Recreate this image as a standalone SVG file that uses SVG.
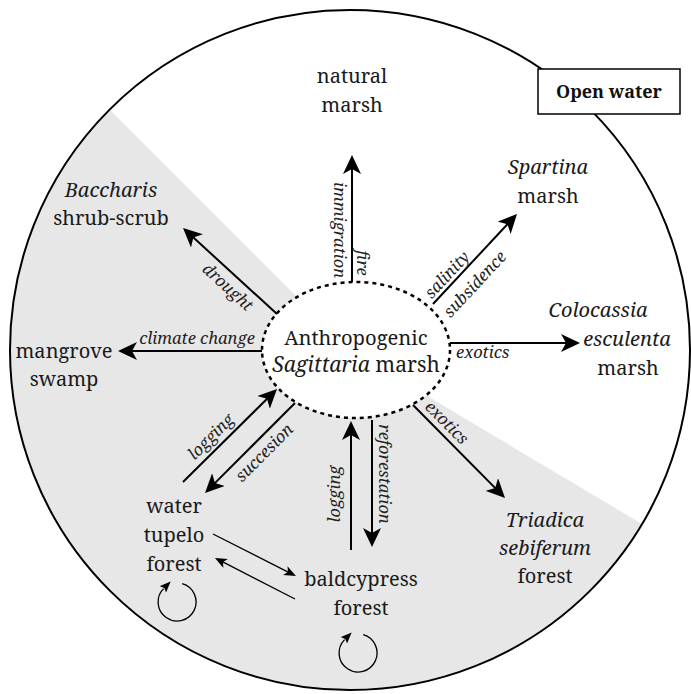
<svg xmlns="http://www.w3.org/2000/svg" width="691" height="694" viewBox="0 0 691 694">
<defs>
<marker id="ah" viewBox="0 0 19 18" markerWidth="19" markerHeight="18" refX="9" refY="9" orient="auto" markerUnits="userSpaceOnUse"><path d="M0,0 L19,9 L0,18 L5,9 Z" fill="#000"/></marker>
<marker id="ahs" viewBox="0 0 12 10" markerWidth="12" markerHeight="10" refX="6" refY="5" orient="auto" markerUnits="userSpaceOnUse"><path d="M0,0 L12,5 L0,10 L3,5 Z" fill="#000"/></marker>
<marker id="ahl" viewBox="0 0 11 9" markerWidth="11" markerHeight="9" refX="1" refY="4.5" orient="auto" markerUnits="userSpaceOnUse"><path d="M0,0 L11,4.5 L0,9 L2,4.5 Z" fill="#000"/></marker>
</defs>
<style>
text{font-family:'Noto Serif','DejaVu Serif',serif}
.n{font-size:20px;fill:#1a1a1a;text-anchor:middle}
.i{font-style:italic}
.l{font-size:16.5px;font-style:italic;fill:#222;text-anchor:middle}
.a{stroke:#000;stroke-width:2;fill:none;marker-end:url(#ah)}
.s{stroke:#000;stroke-width:1.3;fill:none;marker-end:url(#ahs)}
.lp{stroke:#000;stroke-width:1.3;fill:none;marker-end:url(#ahl)}
</style>
<rect width="691" height="694" fill="#fff"/>
<g id="background">
<circle cx="350" cy="350" r="340" fill="#fff"/>
<path d="M350,350 L642,524 A340,340 0 1,1 109.6,109.6 Z" fill="#e7e7e7"/>
<circle cx="350" cy="350" r="340" fill="none" stroke="#000" stroke-width="2"/>
</g>
<g id="node-center">
<ellipse cx="356" cy="350" rx="94" ry="68" fill="#fff" stroke="#000" stroke-width="2.5" stroke-dasharray="4,4"/>
<text class="n" x="356" y="345" style="font-size:20.2px">Anthropogenic</text>
<text class="n" x="356" y="372" style="font-size:21px"><tspan class="i">Sagittaria</tspan> marsh</text>
</g>
<g id="connectors">
<line class="a" x1="352" y1="282" x2="352" y2="165"/>
<line class="a" x1="433" y1="304" x2="510.2" y2="221.3"/>
<line class="a" x1="450" y1="343" x2="570" y2="343"/>
<line class="a" x1="413" y1="405" x2="498" y2="490.9"/>
<line class="a" x1="372" y1="420" x2="372" y2="537"/>
<line class="a" x1="351" y1="550" x2="351" y2="431"/>
<line class="a" x1="295" y1="403" x2="212.1" y2="485.9"/>
<line class="a" x1="183" y1="482" x2="269.9" y2="396"/>
<line class="a" x1="262" y1="351" x2="128" y2="351"/>
<line class="a" x1="277" y1="314" x2="190.4" y2="234.8"/>
<line class="s" x1="213" y1="534" x2="290.6" y2="573.3"/>
<line class="s" x1="295" y1="599" x2="220.3" y2="560.7"/>
<path class="lp" d="M182.2,583.7 A19,19 0 1,1 163.6,588.6"/>
<path class="lp" d="M363.2,634.7 A19,19 0 1,1 344.6,639.6"/>
<text class="l" transform="translate(334,230) rotate(90)">immigration</text>
<text class="l" transform="translate(357,263) rotate(90)">fire</text>
<text class="l" transform="translate(451.2,278.6) rotate(-47)">salinity</text>
<text class="l" transform="translate(479,288) rotate(-47)">subsidence</text>
<text class="l" x="456" y="358" style="text-anchor:start">exotics</text>
<text class="l" transform="translate(442.8,426.6) rotate(45)">exotics</text>
<text class="l" transform="translate(379,474) rotate(90)">reforestation</text>
<text class="l" transform="translate(340,494) rotate(-90)">logging</text>
<text class="l" transform="translate(268.1,456.7) rotate(-45)">succesion</text>
<text class="l" transform="translate(214.8,440.7) rotate(-44.7)">logging</text>
<text class="l" x="197" y="344">climate change</text>
<text class="l" transform="translate(224,291.2) rotate(42.5)">drought</text>
</g>
<g id="node-natural">
<text class="n" x="352" y="83">natural</text>
<text class="n" x="352" y="112">marsh</text>
</g>
<g id="node-spartina">
<text class="n i" x="548" y="174">Spartina</text>
<text class="n" x="548" y="203">marsh</text>
</g>
<g id="node-colocassia">
<text class="n i" x="598" y="317">Colocassia</text>
<text class="n i" x="627" y="346">esculenta</text>
<text class="n" x="628" y="375">marsh</text>
</g>
<g id="node-triadica">
<text class="n i" x="545" y="527">Triadica</text>
<text class="n i" x="545" y="555">sebiferum</text>
<text class="n" x="545" y="583">forest</text>
</g>
<g id="node-baldcypress">
<text class="n" x="361" y="586">baldcypress</text>
<text class="n" x="361" y="615">forest</text>
</g>
<g id="node-tupelo">
<text class="n" x="174" y="513">water</text>
<text class="n" x="174" y="542">tupelo</text>
<text class="n" x="174" y="571">forest</text>
</g>
<g id="node-mangrove">
<text class="n" x="64" y="358">mangrove</text>
<text class="n" x="64" y="386">swamp</text>
</g>
<g id="node-baccharis">
<text class="n i" x="111" y="197">Baccharis</text>
<text class="n" x="111" y="225">shrub-scrub</text>
</g>
<g id="node-openwater">
<rect x="538" y="69" width="142" height="45" fill="#fff" stroke="#000" stroke-width="1.5"/>
<text x="609" y="98" style="font-size:18px;font-weight:bold;text-anchor:middle;fill:#111">Open water</text>
</g>
</svg>
